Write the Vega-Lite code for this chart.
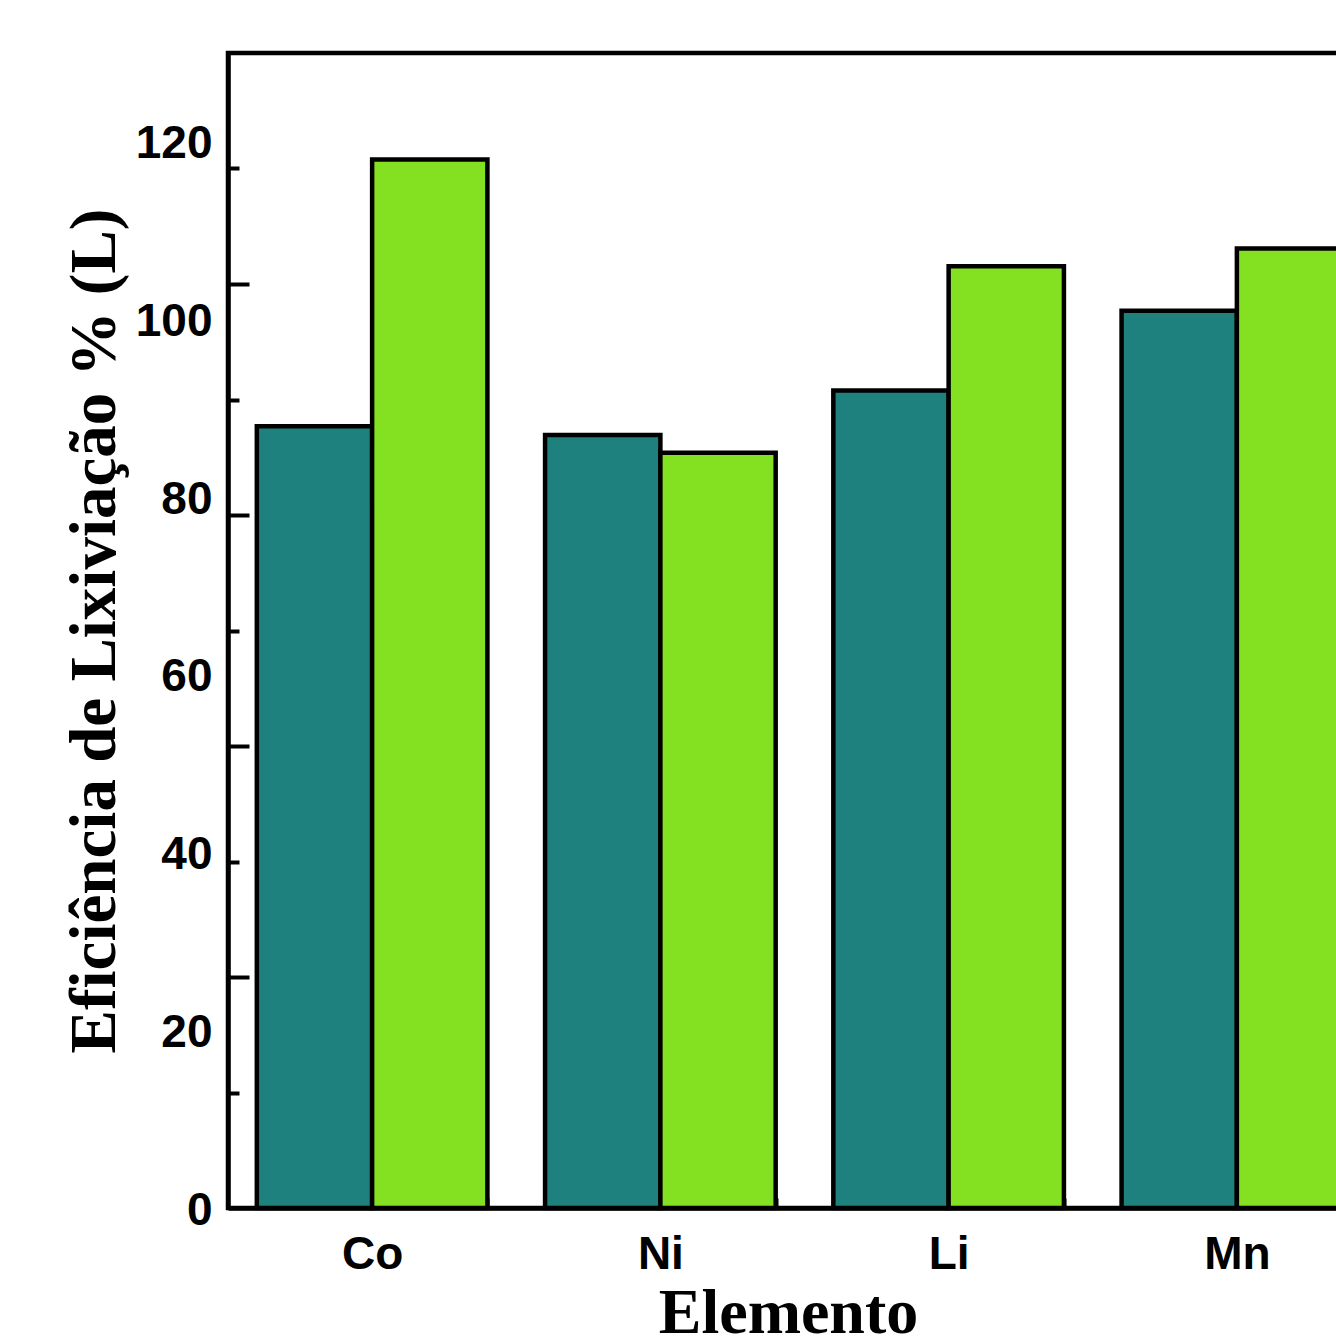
{
  "$schema": "https://vega.github.io/schema/vega-lite/v6.json",
  "autosize": "none",
  "padding": {"left": 228, "top": 53, "right": 0, "bottom": 132},
  "width": 1153,
  "height": 1155,
  "background": "white",
  "config": {
    "view": {"stroke": "black", "strokeWidth": 4.5},
    "axis": {
      "domainColor": "black",
      "domainWidth": 4.5,
      "tickColor": "black",
      "tickWidth": 4,
      "labelFont": "Liberation Sans",
      "labelFontWeight": "bold",
      "labelFontSize": 46,
      "labelColor": "black",
      "titleFont": "Liberation Serif",
      "titleFontWeight": "bold",
      "titleFontSize": 64,
      "titleColor": "black",
      "grid": false
    }
  },
  "data": {
    "values": [
      {"elemento": "Co", "serie": "Série 1", "eficiencia": 88},
      {"elemento": "Co", "serie": "Série 2", "eficiencia": 118},
      {"elemento": "Ni", "serie": "Série 1", "eficiencia": 87},
      {"elemento": "Ni", "serie": "Série 2", "eficiencia": 85},
      {"elemento": "Li", "serie": "Série 1", "eficiencia": 92},
      {"elemento": "Li", "serie": "Série 2", "eficiencia": 106},
      {"elemento": "Mn", "serie": "Série 1", "eficiencia": 101},
      {"elemento": "Mn", "serie": "Série 2", "eficiencia": 108}
    ]
  },
  "encoding": {
    "x": {
      "field": "elemento",
      "type": "nominal",
      "sort": ["Co", "Ni", "Li", "Mn"],
      "scale": {"paddingInner": 0.2, "paddingOuter": 0.1},
      "axis": {
        "title": "Elemento",
        "labelAngle": 0,
        "tickBand": "extent",
        "tickSize": -10,
        "labelPadding": 34,
        "titleX": 560,
        "titleY": 73,
        "titleBaseline": "top"
      }
    },
    "xOffset": {
      "field": "serie",
      "type": "nominal",
      "scale": {"paddingInner": 0, "paddingOuter": 0}
    }
  },
  "layer": [
    {
      "mark": {"type": "bar", "opacity": 0},
      "encoding": {
        "y": {
          "field": "eficiencia",
          "type": "quantitative",
          "scale": {"domain": [0, 130], "nice": false, "zero": true},
          "axis": {
            "orient": "left",
            "title": null,
            "labels": false,
            "domain": false,
            "values": [13, 39, 65, 91, 117],
            "tickSize": -11
          }
        }
      }
    },
    {
      "mark": {"type": "bar", "opacity": 0},
      "encoding": {
        "y": {
          "field": "eficiencia",
          "type": "quantitative",
          "scale": {"domain": [0, 130], "nice": false, "zero": true},
          "axis": {
            "orient": "left",
            "title": null,
            "labels": false,
            "domain": false,
            "values": [26, 52, 78, 104],
            "tickSize": -21
          }
        }
      }
    },
    {
      "mark": {"type": "bar", "stroke": "black", "strokeWidth": 4.5},
      "encoding": {
        "y": {
          "field": "eficiencia",
          "type": "quantitative",
          "scale": {"domain": [0, 130], "nice": false, "zero": true},
          "axis": {
            "orient": "left",
            "title": "Eficiência de Lixiviação % (L)",
            "titleFontSize": 65,
            "values": [0, 20, 40, 60, 80, 100, 120],
            "ticks": false,
            "labelPadding": 16,
            "labelOffset": 2,
            "titlePadding": 7
          }
        },
        "color": {
          "field": "serie",
          "type": "nominal",
          "scale": {"domain": ["Série 1", "Série 2"], "range": ["#1F817D", "#84E122"]},
          "legend": null
        }
      }
    }
  ],
  "resolve": {"scale": {"y": "independent"}}
}
